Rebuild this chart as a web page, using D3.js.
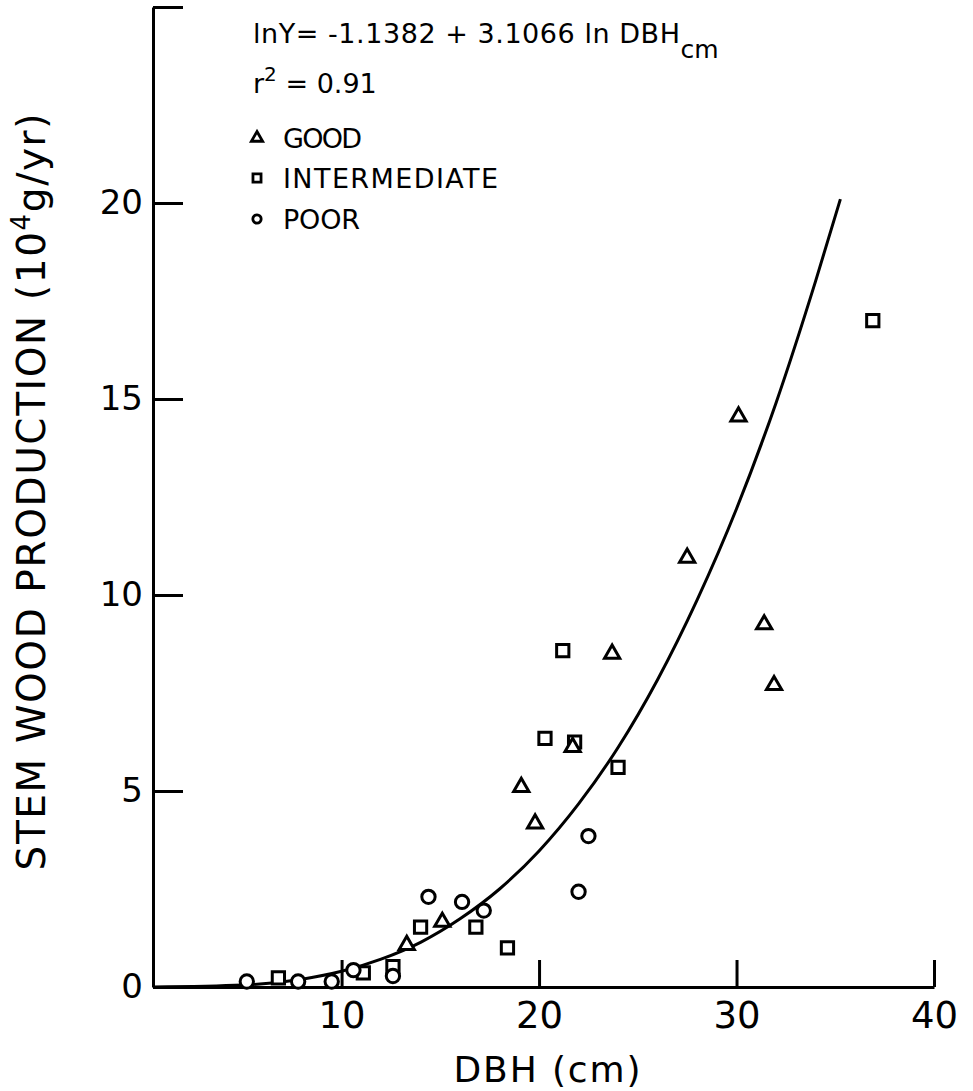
<!DOCTYPE html>
<meta charset="utf-8">
<html>
<head>
    <title>Stem wood production vs DBH</title>
    <script src="https://d3js.org/d3.v7.min.js"></script>
</head>
<style>
    body { margin: 0; background: white; }
    text { font-family: "DejaVu Sans", sans-serif; fill: black; }
</style>
<body>
<div id="chartdiv"></div>
<script>

// data: DBH (cm) and stem wood production (10^4 g/yr)
const goodDbh = [13.3, 15.1, 19.1, 19.8, 21.7, 23.7, 27.5, 30.1, 31.4, 31.9];
const goodProd = [1.07, 1.66, 5.1, 4.17, 6.12, 8.5, 10.95, 14.55, 9.25, 7.7];

const interDbh = [6.8, 11.1, 12.6, 14.0, 16.8, 18.4, 20.3, 21.2, 21.8, 24.0, 36.9];
const interProd = [0.23, 0.36, 0.52, 1.53, 1.53, 1.0, 6.34, 8.58, 6.25, 5.6, 17.0];

const poorDbh = [5.2, 7.8, 9.5, 10.6, 12.6, 14.4, 16.1, 17.2, 22.0, 22.5];
const poorProd = [0.14, 0.14, 0.14, 0.43, 0.28, 2.3, 2.17, 1.95, 2.43, 3.85];

// fitted curve
const fitDbh = [0.45, 5, 8, 10, 12, 14, 16, 18, 20, 22, 24, 26, 28, 30, 32, 34, 35.26];
const fitProd = [0, 0.05, 0.2, 0.4, 0.71, 1.14, 1.74, 2.5, 3.47, 4.67, 6.11, 7.84, 9.87, 12.2, 14.9, 18.0, 20.1];

const xTicks = [10, 20, 30, 40];
const yTicks = [0, 5, 10, 15, 20, 25];
const legendLabels = ["GOOD", "INTERMEDIATE", "POOR"];

// sizes
const width = 973, height = 1091;
const plotLeft = 153, plotRight = 934, plotTop = 7, plotBottom = 987;

const svg = d3.select("#chartdiv")
    .append("svg")
    .attr("width", width)
    .attr("height", height);

svg.append("rect").attr("width", width).attr("height", height).attr("fill", "white");

const x = d3.scaleLinear().domain([0.45, 40]).range([plotLeft, plotRight]);
const y = d3.scaleLinear().domain([0, 25]).range([plotBottom, plotTop]);

// x axis: ticks point up into the plot
const axisX = svg.append("g")
    .attr("transform", "translate(0," + plotBottom + ")")
    .call(d3.axisBottom(x)
        .tickValues(xTicks)
        .tickSizeInner(-27)
        .tickSizeOuter(0)
        .tickPadding(15)
        .tickFormat(d3.format("d")));
axisX.selectAll("line, path").attr("stroke", "black").attr("stroke-width", 3);
axisX.selectAll("text").style("font-size", "37px").attr("font-family", null);

// y axis: ticks point right, no label on the top one
const axisY = svg.append("g")
    .attr("transform", "translate(" + plotLeft + ",0)")
    .call(d3.axisLeft(y)
        .tickValues(yTicks)
        .tickSizeInner(-30)
        .tickSizeOuter(0)
        .tickPadding(10)
        .tickFormat(d => d === 25 ? "" : d));
axisY.selectAll("line, path").attr("stroke", "black").attr("stroke-width", 3);
axisY.selectAll("text").style("font-size", "34px").attr("font-family", null);

// axis titles
svg.append("text")
    .attr("x", 547)
    .attr("y", 1082)
    .attr("text-anchor", "middle")
    .attr("textLength", 187)
    .style("font-size", "36px")
    .text("DBH (cm)");

const ytitle = svg.append("text")
    .attr("transform", "translate(45,492) rotate(-90)")
    .attr("text-anchor", "middle")
    .attr("textLength", 757)
    .style("font-size", "39px");
ytitle.append("tspan").text("STEM WOOD PRODUCTION (10");
ytitle.append("tspan").attr("baseline-shift", "super").style("font-size", "26px").text("4");
ytitle.append("tspan").text("g/yr)");

// fitted curve
const line = d3.line()
    .x(i => x(fitDbh[i]))
    .y(i => y(fitProd[i]))
    .curve(d3.curveMonotoneX);

svg.append("path")
    .attr("d", line(d3.range(fitDbh.length)))
    .attr("fill", "none")
    .attr("stroke", "black")
    .attr("stroke-width", 3);

// data points
function drawPoints(dbh, prod, type, size) {
    svg.append("g")
        .selectAll("path")
        .data(d3.range(dbh.length))
        .join("path")
        .attr("transform", i => "translate(" + x(dbh[i]) + "," + y(prod[i]) + ")")
        .attr("d", d3.symbol().type(type).size(size))
        .attr("fill", "white")
        .attr("stroke", "black")
        .attr("stroke-width", 3);
}
drawPoints(interDbh, interProd, d3.symbolSquare, 150);
drawPoints(poorDbh, poorProd, d3.symbolCircle, 140);
drawPoints(goodDbh, goodProd, d3.symbolTriangle, 100);

// regression text
const eq = svg.append("text")
    .attr("x", 253)
    .attr("y", 43)
    .style("font-size", "27px");
eq.append("tspan").attr("textLength", 427).text("lnY= -1.1382 + 3.1066 ln DBH");
eq.append("tspan").attr("baseline-shift", "sub").style("font-size", "25px").text("cm");

const r2 = svg.append("text")
    .attr("x", 253)
    .attr("y", 93)
    .style("font-size", "27px");
r2.append("tspan").text("r");
r2.append("tspan").attr("baseline-shift", "super").style("font-size", "20px").text("2");
r2.append("tspan").text(" = 0.91");

// legend
const legendTypes = [d3.symbolTriangle, d3.symbolSquare, d3.symbolCircle];
const legendSizes = [55, 65, 55];
const legendY = [138, 178, 219];
const legendLen = [79, 215, 77];
legendLabels.forEach((lab, i) => {
    svg.append("path")
        .attr("transform", "translate(257," + legendY[i] + ")")
        .attr("d", d3.symbol().type(legendTypes[i]).size(legendSizes[i]))
        .attr("fill", "white")
        .attr("stroke", "black")
        .attr("stroke-width", 2.8);
    svg.append("text")
        .attr("x", 283)
        .attr("y", legendY[i] + 10)
        .attr("textLength", legendLen[i])
        .style("font-size", "27px")
        .text(lab);
});

</script>
</body>
</html>
